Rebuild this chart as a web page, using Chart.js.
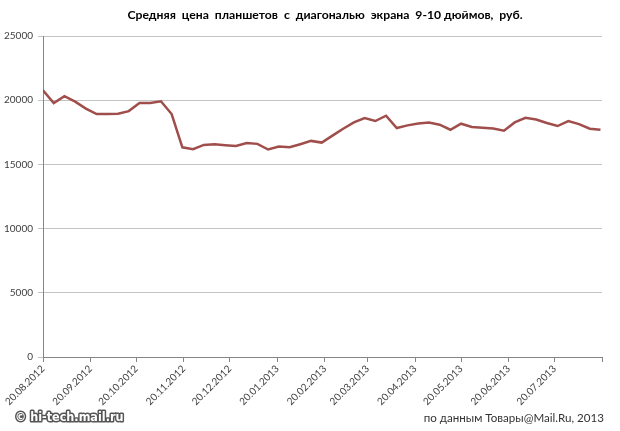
<!DOCTYPE html>
<html lang="ru">
<head>
  <meta charset="UTF-8">
  <title>Средняя цена планшетов</title>
  <script src="https://cdn.jsdelivr.net/npm/chart.js"></script>
  <style>
    html, body { margin: 0; padding: 0; background: #fff; }
    #wrap { width: 620px; height: 431px; }
  </style>
</head>
<body>
  <div id="wrap"><canvas id="priceChart" width="620" height="431"></canvas></div>

  <script>
    const titleText = 'Средняя  цена  планшетов  с  диагональю  экрана  9-10 дюймов,  руб.';
    const sourceText = 'по данным Товары@Mail.Ru, 2013';
    const watermark = '© hi-tech.mail.ru';

    // weekly samples
    const weeks = [
      '20.08.2012', '27.08.2012', '03.09.2012', '10.09.2012', '17.09.2012', '24.09.2012',
      '01.10.2012', '08.10.2012', '15.10.2012', '22.10.2012', '29.10.2012',
      '05.11.2012', '12.11.2012', '19.11.2012', '26.11.2012',
      '03.12.2012', '10.12.2012', '17.12.2012', '24.12.2012', '31.12.2012',
      '07.01.2013', '14.01.2013', '21.01.2013', '28.01.2013',
      '04.02.2013', '11.02.2013', '18.02.2013', '25.02.2013',
      '04.03.2013', '11.03.2013', '18.03.2013', '25.03.2013',
      '01.04.2013', '08.04.2013', '15.04.2013', '22.04.2013', '29.04.2013',
      '06.05.2013', '13.05.2013', '20.05.2013', '27.05.2013',
      '03.06.2013', '10.06.2013', '17.06.2013', '24.06.2013',
      '01.07.2013', '08.07.2013', '15.07.2013', '22.07.2013', '29.07.2013',
      '05.08.2013', '12.08.2013', '19.08.2013'
    ];
    const prices = [
      20770, 19770, 20310, 19890, 19350, 18920,
      18920, 18940, 19150, 19790, 19790,
      19920, 18920, 16330, 16180,
      16520, 16570, 16500, 16440, 16670,
      16600, 16160, 16390, 16330,
      16570, 16830, 16700, 17240,
      17780, 18270, 18610, 18380,
      18790, 17830, 18040, 18190, 18270,
      18090, 17700, 18170, 17910,
      17850, 17800, 17630, 18270,
      18630, 18500, 18220, 17990, 18380,
      18140, 17780, 17700
    ];
    const tickLabels = [
      '20.08.2012', '20.09.2012', '20.10.2012', '20.11.2012', '20.12.2012', '20.01.2013',
      '20.02.2013', '20.03.2013', '20.04.2013', '20.05.2013', '20.06.2013', '20.07.2013'
    ];
    const endDate = '20.08.2013';

    function toDays(s) {
      const [d, m, y] = s.split('.').map(Number);
      const [d0, m0, y0] = weeks[0].split('.').map(Number);
      return (Date.UTC(y, m - 1, d) - Date.UTC(y0, m0 - 1, d0)) / 86400000;
    }

    const tickValues = tickLabels.map(toDays).concat([toDays(endDate)]);
    const points = weeks.map((w, i) => ({ x: toDays(w), y: prices[i] }));

    // title, source and watermark
    const textPlugin = {
      id: 'texts',
      afterDraw(chart) {
        const c = chart.ctx;
        c.save();
        c.fillStyle = '#000';
        c.font = 'bold 12.2px Lato';
        c.textAlign = 'center';
        c.textBaseline = 'middle';
        c.fillText(titleText, 325, 15);

        c.font = '11.6px Lato';
        c.fillStyle = '#333';
        c.textAlign = 'right';
        c.fillText(sourceText, 604, 418);

        c.font = 'bold 12.5px "DejaVu Sans Condensed"';
        c.textAlign = 'left';
        c.lineWidth = 3;
        c.strokeStyle = '#555';
        c.lineJoin = 'round';
        c.strokeText(watermark, 15, 418);
        c.fillStyle = '#fff';
        c.fillText(watermark, 15, 418);
        c.restore();
      }
    };

    const tickFont = { family: 'Lato', size: 10 };

    new Chart(document.getElementById('priceChart'), {
      type: 'line',
      data: {
        datasets: [{
          data: points,
          borderColor: '#a04e4b',
          borderWidth: 2.5,
          pointRadius: 0,
          tension: 0,
          fill: false
        }]
      },
      options: {
        responsive: false,
        animation: false,
        devicePixelRatio: 1,
        layout: { padding: { top: 36, right: 18, left: 0, bottom: 0 } },
        plugins: {
          legend: { display: false },
          tooltip: { enabled: false }
        },
        scales: {
          x: {
            type: 'linear',
            min: 0,
            max: toDays(endDate),
            afterBuildTicks: s => { s.ticks = tickValues.map(v => ({ value: v })); },
            afterFit: s => { s.height = 74; },
            ticks: {
              autoSkip: false,
              maxRotation: 45,
              minRotation: 45,
              padding: 1,
              color: '#404040',
              font: tickFont,
              callback: (v, i) => tickLabels[i] || ''
            },
            grid: { drawOnChartArea: false, drawTicks: true, tickLength: 5, color: '#868686' },
            border: { color: '#868686' }
          },
          y: {
            min: 0,
            max: 25000,
            afterFit: s => { s.width = 43; },
            ticks: {
              stepSize: 5000,
              padding: 5,
              color: '#404040',
              font: tickFont,
              callback: v => String(v)
            },
            grid: { color: '#c4c4c4', tickLength: 5, drawTicks: true },
            border: { color: '#868686' }
          }
        }
      },
      plugins: [textPlugin]
    });
  </script>
</body>
</html>
